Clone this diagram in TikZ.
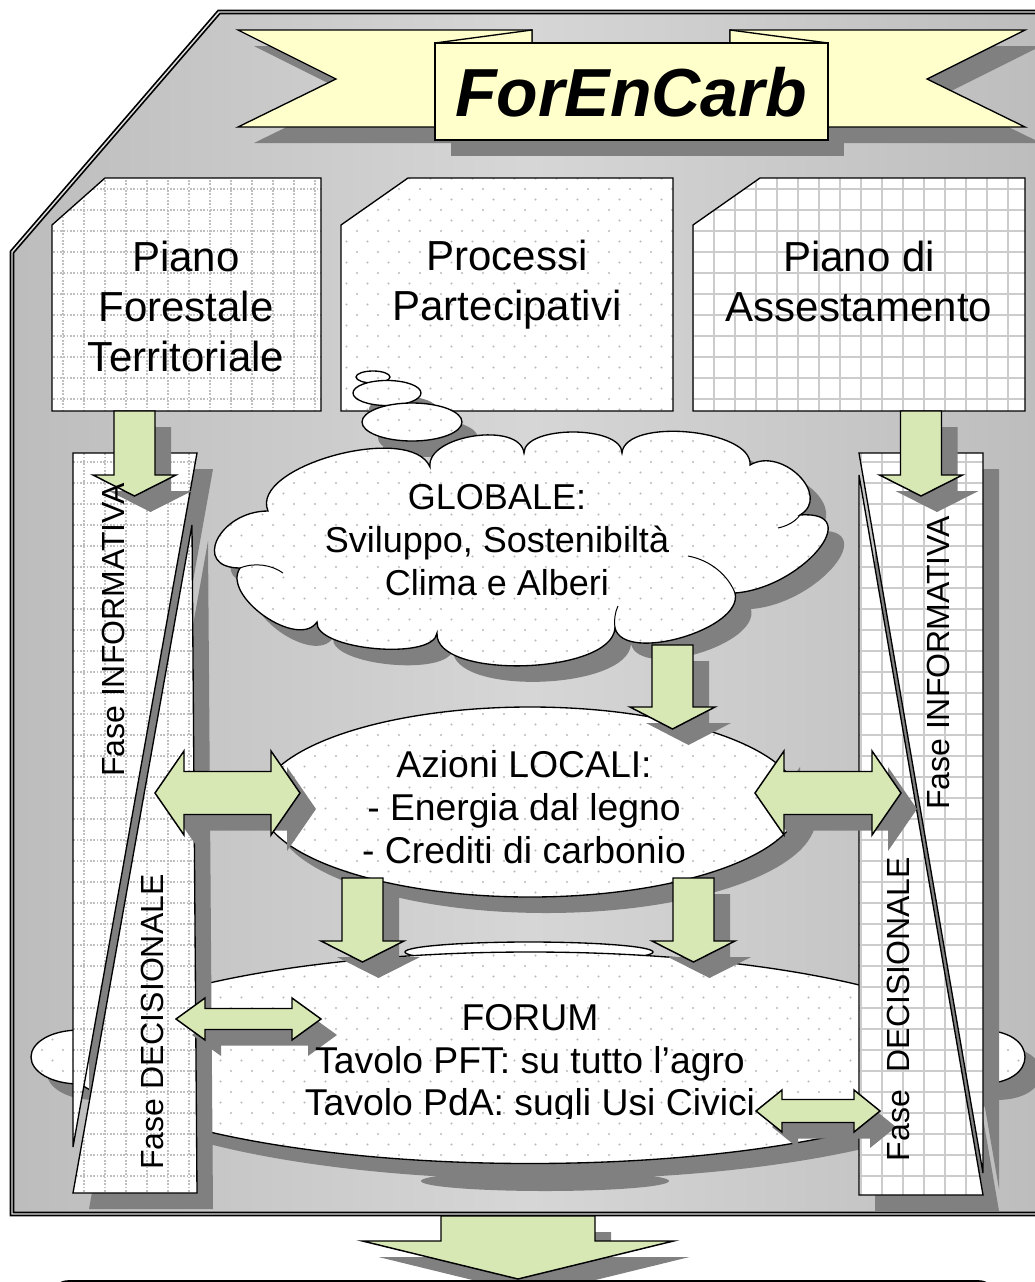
\documentclass[tikz,border=0pt]{standalone}
\usepackage{fontspec}
\setmainfont{Liberation Sans}

\definecolor{ribbon}{RGB}{255,255,204}
\definecolor{leaf}{RGB}{215,232,180}
\definecolor{shadowgray}{RGB}{128,128,128}

\tikzset{every picture/.style={line width=0.75pt}}
\tikzset{
  dropshade/.style={preaction={fill=shadowgray, transform canvas={shift={(12pt,-12pt)}}}},
  ribbonfill/.style={draw=black, line width=1pt, fill=ribbon},
  greenarrow/.style={draw=black, line width=1.1pt, fill=leaf, dropshade},
  dotgrid/.style={draw=black, line width=1pt, fill=white, path picture={
    \draw [black!25, line width=1.3pt, dash pattern=on 1.2pt off 1.3pt, step=15.75pt] (0,0) grid (1050,1290);}},
  meshgrid/.style={draw=black, line width=1pt, fill=white, path picture={
    \draw [black!20, line width=1.5pt, step=15.75pt] (0,0) grid (1050,1290);}},
  dotfill/.style={draw=black, line width=1pt, fill=white, path picture={
    \foreach \yy in {0,21,...,1290} {
      \draw [black!27, line width=1.8pt, line cap=round, dash pattern=on 0pt off 15.75pt] (0,\yy) -- (1050,\yy);
      \draw [black!27, line width=1.8pt, line cap=round, dash pattern=on 0pt off 15.75pt] (10.5,\yy+10.5) -- (1050,\yy+10.5);
    }}},
  boxtext/.style={align=center, inner sep=0pt, font=\fontsize{31.5}{37.5}\selectfont},
  cloudtext/.style={align=center, inner sep=0pt, font=\fontsize{27}{32}\selectfont},
  ovaltext/.style={align=center, inner sep=0pt, font=\fontsize{28}{32}\selectfont},
  phasetext/.style={rotate=90, inner sep=0pt, font=\fontsize{24}{28}\selectfont}
}

% block arrows: x, top, head start, tip, shaft half width, head half width
\newcommand{\arrdown}[6]{\draw [greenarrow] ({#1-#5},#2) -- ({#1+#5},#2) -- ({#1+#5},#3) -- ({#1+#6},#3) -- (#1,#4) -- ({#1-#6},#3) -- ({#1-#5},#3) -- cycle;}
% double arrows: left tip, right tip, y, shaft half, head half, head length
\newcommand{\arrboth}[6]{\draw [greenarrow] (#1,#3) -- ({#1+#6},{#3-#5}) -- ({#1+#6},{#3-#4}) -- ({#2-#6},{#3-#4}) -- ({#2-#6},{#3-#5}) -- (#2,#3) -- ({#2-#6},{#3+#5}) -- ({#2-#6},{#3+#4}) -- ({#1+#6},{#3+#4}) -- ({#1+#6},{#3+#5}) -- cycle;}

\begin{document}
\begin{tikzpicture}[x=0.75pt,y=0.75pt,yscale=-1,xscale=1]
\useasboundingbox (0,0) rectangle (1035,1282);
\clip (0,0) rectangle (1035,1282);

%Shape: Frame
\fill [left color=black!26, right color=black!26, middle color=black!16] (12,252) -- (219,12) -- (1045,12) -- (1045,1214) -- (12,1214) -- cycle;
\draw [line width=1.3pt, double=black!12, double distance=1.1pt] (12,252) -- (219,12) -- (1045,12) -- (1045,1214) -- (12,1214) -- cycle;

%Shape: Ribbon
\fill [shadowgray] (451,59) rectangle (844,156);
\draw [ribbonfill, dropshade] (238,30) -- (532,30) -- (532,127) -- (238,127) -- (336,79) -- cycle;
\draw [ribbonfill, dropshade] (1025,30) -- (730,30) -- (730,127) -- (1025,127) -- (927,79) -- cycle;
\draw [ribbonfill] (435,43) -- (532,30) -- (532,43) -- cycle;
\draw [ribbonfill] (828,43) -- (730,30) -- (730,43) -- cycle;
\draw [ribbonfill] (435,43) rectangle (828,140);

%Shape: Snip Rectangles
\draw [dotgrid] (52,225) -- (105,178) -- (321,178) -- (321,411) -- (52,411) -- cycle;
\draw [dotfill] (341,225) -- (408,178) -- (673,178) -- (673,411) -- (341,411) -- cycle;
\draw [meshgrid] (693,225) -- (760,178) -- (1025,178) -- (1025,411) -- (693,411) -- cycle;

%Shape: Forum scroll
\draw [dotfill, dropshade] (529,1165) ellipse [x radius=93pt, y radius=7.5pt];
\draw [dotfill] (529,952) ellipse [x radius=93pt, y radius=7.5pt];
\draw [dotfill, dropshade] (80,1030) .. controls (250,926) and (810,926) .. (980,1030) .. controls (1010,1030) and (1025,1043) .. (1025,1057) .. controls (1025,1071) and (1010,1084) .. (980,1084) .. controls (810,1190) and (250,1190) .. (80,1084) .. controls (50,1084) and (31,1071) .. (31,1057) .. controls (31,1043) and (50,1030) .. (80,1030) -- cycle;

%Shape: Phase columns
\draw [dotgrid, dropshade] (73,453) -- (197,453) -- (73,1147) -- cycle;
\draw [dotgrid, dropshade] (192,525) -- (197,1193) -- (73,1193) -- cycle;
\draw [meshgrid, dropshade] (859,475) -- (983,1195) -- (859,1195) -- cycle;
\draw [meshgrid, dropshade] (859,453) -- (983,453) -- (983,1173) -- cycle;

%Shape: Thought bubbles
\draw [dotfill, dropshade] (373,377) ellipse [x radius=12.75pt, y radius=4.5pt];
\draw [dotfill, dropshade] (387,393) ellipse [x radius=25.5pt, y radius=9.4pt];
\draw [dotfill, dropshade] (412,422) ellipse [x radius=37.5pt, y radius=14.25pt];

%Shape: Cloud
\draw [dotfill, dropshade] (268,511) .. controls (249,466) and (411,422) .. (430,467) .. controls (426,435) and (520,421) .. (524,453) .. controls (524,425) and (622,425) .. (622,453) .. controls (625,417) and (753,429) .. (750,465) .. controls (782,446) and (832,496) .. (800,515) .. controls (867,510) and (802,588) .. (735,593) .. controls (744,629) and (624,664) .. (615,628) .. controls (612,675) and (434,680) .. (437,633) .. controls (434,661) and (314,650) .. (317,622) .. controls (298,650) and (221,596) .. (240,568) .. controls (191,568) and (219,511) .. (268,511) -- cycle;
\draw (240,568) .. controls (255,562) and (272,565) .. (283,573);
\draw (735,593) .. controls (728,575) and (710,560) .. (688,556);
\draw (800,515) .. controls (795,522) and (787,526) .. (778,528);
\draw (615,628) .. controls (614,620) and (615,612) .. (618,606);

%Shape: Ellipse
\draw [dotfill, dropshade] (530,802) ellipse [x radius=202.5pt, y radius=71.25pt];

%Block arrows
\arrdown{134.5}{411}{475}{496}{20.5}{41.5}
\arrdown{921}{411}{475}{496}{20.5}{41.5}
\arrdown{672.5}{645}{707}{729}{20.5}{42.5}
\arrdown{362.5}{878}{941}{962}{20.5}{41.5}
\arrdown{693.5}{878}{941}{962}{20.5}{41.5}
\arrboth{155}{300}{793}{21.5}{42}{29}
\arrboth{755}{901}{793}{21.5}{42}{29}
\arrboth{176}{321}{1019}{10.5}{21}{29}
\arrboth{756}{880}{1111}{11.5}{21}{26}
\arrdown{518}{1216}{1241}{1279}{77}{155.5}

%Shape: Rounded rectangle (below)
\draw [line width=1.2pt, rounded corners=12pt] (52,1340) -- (52,1281) -- (995,1281) -- (995,1340);

% Text Node
\node (title) at (631,92) {\fontsize{51}{56}\selectfont\bfseries\itshape ForEnCarb};
% Text Node
\node [boxtext] (pft) at (186,306) {Piano\\Forestale\\Territoriale};
% Text Node
\node [boxtext] (pp) at (507,285) {Processi\\Partecipativi};
% Text Node
\node [boxtext] (pda) at (859,281) {Piano di\\Assestamento};
% Text Node
\node [cloudtext] (glob) at (497,540) {GLOBALE:\\Sviluppo, Sostenibiltà\\Clima e Alberi};
% Text Node
\begin{scope}
\clip (0,0) rectangle (1035,864);
\node [ovaltext] (loc) at (524,807) {Azioni LOCALI:\\- Energia dal legno\\- Crediti di carbonio};
\end{scope}
% Text Node
\begin{scope}
\clip (0,0) rectangle (1035,1118);
\node [ovaltext] (forum) at (530,1064) {FORUM\\Tavolo PFT: su tutto l’agro\\Tavolo PdA: sugli Usi Civici};
\end{scope}
% Text Node
\node [phasetext] (infoL) at (113,630) {Fase INFORMATIVA};
\node [phasetext] (decL) at (152,1022) {Fase DECISIONALE};
\node [phasetext] (infoR) at (938,663) {Fase INFORMATIVA};
\node [phasetext] (decR) at (898,1009) {Fase~ DECISIONALE};

\end{tikzpicture}
\end{document}
